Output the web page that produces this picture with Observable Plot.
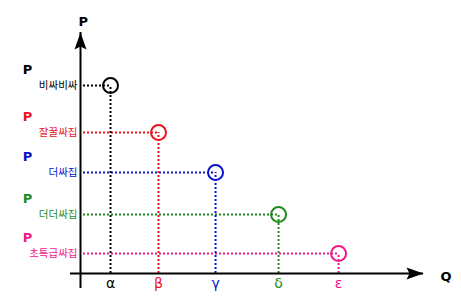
<!DOCTYPE html>
<html>
<head>
<meta charset="utf-8">
<script src="https://cdn.jsdelivr.net/npm/d3@7"></script>
<script src="https://cdn.jsdelivr.net/npm/@observablehq/plot@0.6"></script>
<style>
  html, body { margin: 0; padding: 0; background: #fff; }
</style>
</head>
<body>
<div id="chart"></div>
<script>
const qLabels = ["α", "β", "γ", "δ", "ε"];
const pLabels = ["비싸비싸", "잘꿀싸집", "더싸집", "더더싸집", "초특급싸집"];
const qValues = [1.0, 2.6, 4.5, 6.6, 8.6];
const pValues = [9.4, 7.05, 5.05, 2.95, 1.0];
const colors = ["#000000", "#e8141c", "#0a14c8", "#1e8c1e", "#ee1a8a"];

const data = qLabels.map((q, i) => ({q: qValues[i], p: pValues[i], qLabel: q, pLabel: pLabels[i], color: colors[i]}));

const arrowUp = {
  draw(context) {
    context.moveTo(0, 0);
    context.lineTo(6, 17);
    context.lineTo(0, 14);
    context.lineTo(-6, 17);
    context.closePath();
  }
};

const chart = Plot.plot({
  width: 461,
  height: 300,
  marginLeft: 80,
  marginRight: 38,
  marginTop: 32,
  marginBottom: 27,
  x: {domain: [0, 11.43], axis: null},
  y: {domain: [0, 12.05], axis: null},
  style: {fontFamily: "'Noto Sans CJK KR', 'Noto Sans', sans-serif", background: "#fff"},
  marks: [
    Plot.ruleY(data, {y: "p", x1: 0.1, x2: "q", stroke: "color", strokeWidth: 2, strokeDasharray: "2,2"}),
    Plot.ruleX(data, {x: "q", y1: 0, y2: "p", stroke: "color", strokeWidth: 2, strokeDasharray: "2,2"}),
    Plot.ruleY([0], {stroke: "black", strokeWidth: 2, insetLeft: -10}),
    Plot.ruleX([0], {stroke: "black", strokeWidth: 2, insetBottom: -15}),
    Plot.dot([0], {frameAnchor: "top-left", symbol: arrowUp, fill: "black", stroke: "none"}),
    Plot.dot([0], {frameAnchor: "bottom-right", symbol: arrowUp, fill: "black", stroke: "none", rotate: 90}),
    Plot.dot(data, {x: "q", y: "p", r: 7.5, stroke: "color", strokeWidth: 2, fill: "none"}),
    Plot.text(data, {x: "q", text: "qLabel", fill: "color", frameAnchor: "bottom", dy: 14, fontSize: 14, fontFamily: "'DejaVu Sans', sans-serif"}),
    Plot.text(data, {y: "p", text: "pLabel", fill: "color", frameAnchor: "left", textAnchor: "end", dx: -3, dy: 0, fontSize: 10.5}),
    Plot.text(data, {y: "p", text: () => "P", fill: "color", frameAnchor: "left", textAnchor: "middle", dx: -53, dy: -16, fontSize: 13, fontWeight: "bold", fontFamily: "'DejaVu Sans', sans-serif"}),
    Plot.text(["P"], {frameAnchor: "top-left", dx: -2, dy: -16, fontSize: 13, fontWeight: "bold", fontFamily: "'DejaVu Sans', sans-serif"}),
    Plot.text(["Q"], {frameAnchor: "bottom-right", dx: 28, dy: 7, fontSize: 13, fontWeight: "bold", fontFamily: "'DejaVu Sans', sans-serif"})
  ]
});
document.getElementById("chart").appendChild(chart);
</script>
</body>
</html>
